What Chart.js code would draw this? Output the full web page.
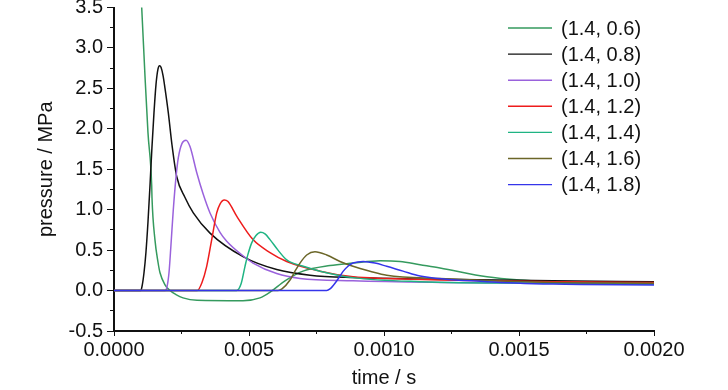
<!DOCTYPE html>
<html>
<head>
<meta charset="utf-8">
<script src="https://cdn.jsdelivr.net/npm/chart.js@4.4.4/dist/chart.umd.min.js"></script>
<style>
  html, body { margin: 0; padding: 0; background: #fff; }
  #wrap { width: 728px; height: 390px; }
</style>
</head>
<body>
<div id="wrap"><canvas id="chart" width="728" height="390"></canvas></div>
<script>
const FONT = '"Liberation Sans", Arial, sans-serif';

const seriesLabels = ['(1.4, 0.6)', '(1.4, 0.8)', '(1.4, 1.0)', '(1.4, 1.2)', '(1.4, 1.4)', '(1.4, 1.6)', '(1.4, 1.8)'];
const seriesColors = ['#359a5e', '#111111', '#9a62dc', '#ee1c1c', '#1fb483', '#6b6628', '#3535ea'];

const xTickLabels = ['0.0000', '0.005', '0.0010', '0.0015', '0.0020'];
const yTickLabels = ['-0.5', '0.0', '0.5', '1.0', '1.5', '2.0', '2.5', '3.0', '3.5'];
const xTitle = 'time / s';
const yTitle = 'pressure / MPa';

// time (s) / pressure (MPa)
const t06 = [0.0000889, 0.0001026, 0.0001148, 0.0001259, 0.0001396, 0.0001407, 0.0001519, 0.0001630, 0.0001704, 0.0001889, 0.0002074, 0.0002296, 0.0002556, 0.0003074, 0.0004778, 0.0005407, 0.0005778, 0.0006333, 0.0007, 0.0008, 0.0008852, 0.0009852, 0.0010593, 0.0011333, 0.0012074, 0.0013815, 0.0015037, 0.0016259, 0.0018, 0.002];
const p06 = [4.3, 3.5, 2.65, 1.95, 1.3, 1.15, 0.62, 0.35, 0.22, 0.07, 0.0, -0.05, -0.09, -0.12, -0.125, -0.09, -0.02, 0.12, 0.24, 0.31, 0.34, 0.37, 0.36, 0.32, 0.28, 0.17, 0.13, 0.11, 0.09, 0.08];

const t08 = [0, 0.0000989, 0.0001037, 0.0001111, 0.0001185, 0.0001259, 0.0001333, 0.0001407, 0.0001481, 0.0001556, 0.000163, 0.0001685, 0.0001741, 0.0001815, 0.0001889, 0.0002011, 0.0002148, 0.0002322, 0.000263, 0.0002937, 0.0003556, 0.0004778, 0.0006026, 0.0007259, 0.0008852, 0.0012074, 0.0016259, 0.002];
const p08 = [0, 0, 0.05, 0.22, 0.48, 0.85, 1.3, 1.78, 2.2, 2.55, 2.74, 2.78, 2.76, 2.66, 2.5, 2.2, 1.8, 1.41, 1.15, 0.96, 0.71, 0.42, 0.26, 0.19, 0.16, 0.14, 0.12, 0.11];

const t10 = [0, 0.0001889, 0.0001952, 0.0002037, 0.0002111, 0.0002196, 0.0002296, 0.0002381, 0.0002519, 0.0002667, 0.0002815, 0.0003063, 0.0003296, 0.0003556, 0.0003926, 0.0004174, 0.0004778, 0.0005148, 0.0006026, 0.0006889, 0.0008852, 0.0012074, 0.0016259, 0.002];
const p10 = [0, 0, 0.03, 0.22, 0.57, 1.0, 1.4, 1.64, 1.82, 1.86, 1.78, 1.46, 1.2, 0.96, 0.72, 0.61, 0.43, 0.34, 0.21, 0.15, 0.12, 0.1, 0.09, 0.08];

const t12 = [0, 0.0003085, 0.0003259, 0.0003433, 0.0003619, 0.0003804, 0.0003926, 0.0004085, 0.0004222, 0.0004544, 0.0005148, 0.0005778, 0.0006396, 0.000763, 0.0008852, 0.00101, 0.0012074, 0.0016259, 0.002];
const p12 = [0, 0, 0.1, 0.3, 0.63, 0.96, 1.07, 1.12, 1.1, 0.92, 0.63, 0.47, 0.36, 0.24, 0.17, 0.15, 0.13, 0.11, 0.1];

const t14 = [0, 0.0004544, 0.0004704, 0.0004852, 0.0004963, 0.00051, 0.0005259, 0.0005433, 0.0005593, 0.0005778, 0.0006074, 0.0006396, 0.0007011, 0.000763, 0.0008852, 0.0011333, 0.0016259, 0.002];
const p14 = [0, 0, 0.08, 0.3, 0.45, 0.59, 0.68, 0.72, 0.7, 0.63, 0.5, 0.38, 0.3, 0.24, 0.16, 0.11, 0.09, 0.08];

const t16 = [0, 0.0006074, 0.0006222, 0.0006519, 0.0006704, 0.0006889, 0.0007137, 0.0007444, 0.0007878, 0.000837, 0.0008852, 0.0009481, 0.00101, 0.0012074, 0.0016259, 0.002];
const p16 = [0, 0, 0.02, 0.13, 0.24, 0.34, 0.44, 0.48, 0.44, 0.36, 0.3, 0.24, 0.19, 0.15, 0.1, 0.09];

const t18 = [0, 0.0007878, 0.0008, 0.0008185, 0.000837, 0.0008493, 0.0008667, 0.0008852, 0.0009233, 0.0009667, 0.00101, 0.0010704, 0.0011333, 0.0013815, 0.0016259, 0.002];
const p18 = [0, 0, 0.02, 0.09, 0.18, 0.24, 0.3, 0.34, 0.36, 0.34, 0.3, 0.24, 0.18, 0.11, 0.08, 0.07];

const times = [t06, t08, t10, t12, t14, t16, t18];
const pressures = [p06, p08, p10, p12, p14, p16, p18];

const insideLegend = {
  id: 'insideLegend',
  afterDraw(chart) {
    const ctx = chart.ctx;
    ctx.save();
    ctx.font = '20px ' + FONT;
    ctx.textBaseline = 'middle';
    ctx.fillStyle = '#111';
    chart.data.datasets.forEach((ds, i) => {
      const y = 28 + i * 26.1;
      ctx.strokeStyle = ds.borderColor;
      ctx.lineWidth = 1.4;
      ctx.beginPath();
      ctx.moveTo(508, y);
      ctx.lineTo(552, y);
      ctx.stroke();
      ctx.fillText(ds.label, 561, y + 1);
    });
    ctx.restore();
  }
};

const tickFont = { family: FONT, size: 20, lineHeight: 1.2 };
const titleFont = { family: FONT, size: 20, lineHeight: 1 };

new Chart(document.getElementById('chart'), {
  type: 'line',
  data: {
    datasets: seriesLabels.map((label, i) => ({
      label,
      data: times[i].map((t, k) => ({ x: t, y: pressures[i][k] })),
      borderColor: seriesColors[i],
      borderWidth: 1.5,
      pointRadius: 0,
      fill: false,
      cubicInterpolationMode: 'monotone',
      order: seriesLabels.length - 1 - i,
    })),
  },
  options: {
    responsive: false,
    animation: false,
    layout: { padding: { left: 0, right: 74, top: 7.5, bottom: 0 } },
    plugins: { legend: { display: false }, tooltip: { enabled: false } },
    scales: {
      x: {
        type: 'linear', position: 'bottom', weight: 1, min: 0, max: 0.002,
        ticks: { stepSize: 0.0005, autoSkip: false, maxRotation: 0, padding: 2, color: '#111', font: tickFont,
          callback: (v, i) => xTickLabels[i] },
        grid: { drawOnChartArea: false, tickLength: 5, color: '#111' },
        border: { color: '#111', width: 2 },
        title: { display: true, text: xTitle, color: '#111', font: titleFont, padding: { top: 0, bottom: 2 } },
        afterFit: s => { s.height = 59; s.paddingLeft = 0; s.paddingRight = 0; },
      },
      xMinor: {
        type: 'linear', position: 'bottom', weight: 0, min: 0, max: 0.002,
        ticks: { stepSize: 0.00025, autoSkip: false, display: false },
        grid: { drawOnChartArea: false, tickLength: 3, color: '#111' },
        border: { display: false },
        afterFit: s => { s.height = 0; s.paddingLeft = 0; s.paddingRight = 0; },
      },
      y: {
        type: 'linear', position: 'left', weight: 1, min: -0.5, max: 3.5,
        ticks: { stepSize: 0.5, autoSkip: false, padding: 4, color: '#111', font: tickFont,
          callback: (v, i) => yTickLabels[i] },
        grid: { drawOnChartArea: false, tickLength: 7, color: '#111' },
        border: { color: '#111', width: 2 },
        title: { display: true, text: yTitle, color: '#111', font: titleFont, padding: { top: 36, bottom: 0 } },
        afterFit: s => { s.width = 114; s.paddingTop = 0; s.paddingBottom = 0; },
      },
      yMinor: {
        type: 'linear', position: 'left', weight: 0, min: -0.5, max: 3.5,
        ticks: { stepSize: 0.25, autoSkip: false, display: false },
        grid: { drawOnChartArea: false, tickLength: 4, color: '#111' },
        border: { display: false },
        afterFit: s => { s.width = 0; s.paddingTop = 0; s.paddingBottom = 0; },
      },
    },
  },
  plugins: [insideLegend],
});
</script>
</body>
</html>
